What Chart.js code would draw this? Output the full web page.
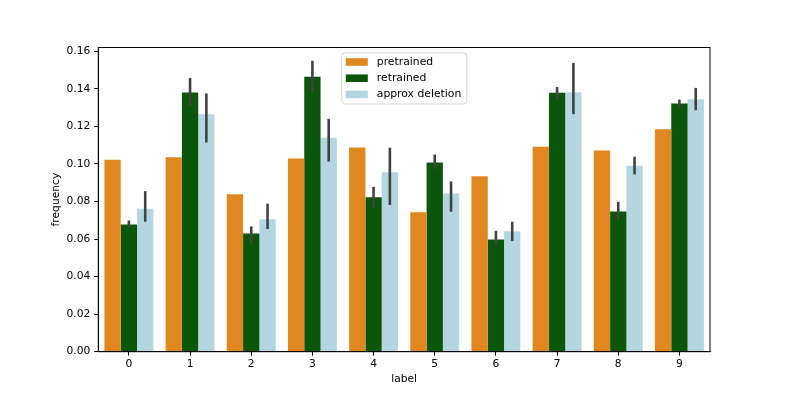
<!DOCTYPE html>
<html>
<head>
<meta charset="utf-8">
<script src="https://cdn.jsdelivr.net/npm/chart.js@4.4.1/dist/chart.umd.min.js"></script>
<style>
  html, body { margin: 0; padding: 0; background: #fff; }
  #wrap { width: 789px; height: 395px; }
</style>
</head>
<body>
<div id="wrap"><canvas id="chart" width="789" height="395"></canvas></div>
<script>
const labels = ["0", "1", "2", "3", "4", "5", "6", "7", "8", "9"];
const seriesNames = ["pretrained", "retrained", "approx deletion"];

const pretrained = [0.1022, 0.1035, 0.0838, 0.1029, 0.1088, 0.0742, 0.0935, 0.1091, 0.1072, 0.1184];
const retrained = [0.0678, 0.1380, 0.0630, 0.1464, 0.0822, 0.1008, 0.0598, 0.1379, 0.0747, 0.1322];
const approxDeletion = [0.0761, 0.1265, 0.0706, 0.1139, 0.0956, 0.0843, 0.0641, 0.1382, 0.0990, 0.1345];

// error bar ends (low, high)
const retrainedLow = [0.0660, 0.1309, 0.0575, 0.1378, 0.0768, 0.0972, 0.0566, 0.1347, 0.0699, 0.1302];
const retrainedHigh = [0.0699, 0.1458, 0.0667, 0.1549, 0.0878, 0.1050, 0.0644, 0.1410, 0.0798, 0.1343];
const approxLow = [0.0692, 0.1114, 0.0653, 0.1013, 0.0781, 0.0745, 0.0589, 0.1265, 0.0944, 0.1286];
const approxHigh = [0.0855, 0.1375, 0.0788, 0.1240, 0.1086, 0.0907, 0.0692, 0.1538, 0.1038, 0.1405];

const yTicks = [0, 0.02, 0.04, 0.06, 0.08, 0.10, 0.12, 0.14, 0.16];
const yMax = 0.162;

const COLORS = ["#e1871f", "#0c560c", "#b4d6e1"];
const FONT = "DejaVu Sans";

const errorBars = {
  id: "errorBars",
  afterDatasetsDraw(chart) {
    const ctx = chart.ctx;
    const y = chart.scales.y;
    const errs = { 1: [retrainedLow, retrainedHigh], 2: [approxLow, approxHigh] };
    ctx.save();
    ctx.strokeStyle = "#424242";
    ctx.lineWidth = 2.6;
    Object.keys(errs).forEach(i => {
      const meta = chart.getDatasetMeta(+i);
      const [lo, hi] = errs[i];
      meta.data.forEach((bar, j) => {
        ctx.beginPath();
        ctx.moveTo(bar.x, y.getPixelForValue(lo[j]));
        ctx.lineTo(bar.x, y.getPixelForValue(hi[j]));
        ctx.stroke();
      });
    });
    ctx.restore();
  }
};

const frameAndLegend = {
  id: "frameAndLegend",
  afterDraw(chart) {
    const ctx = chart.ctx;
    const a = chart.chartArea;
    ctx.save();
    // spines
    ctx.strokeStyle = "#000";
    ctx.lineWidth = 1;
    ctx.strokeRect(a.left, a.top, a.right - a.left, a.bottom - a.top);

    // legend box
    const bx = a.left + 243.5, by = a.top + 5.5, bw = 125, bh = 51, r = 3;
    ctx.beginPath();
    ctx.roundRect(bx, by, bw, bh, r);
    ctx.fillStyle = "rgba(255,255,255,0.85)";
    ctx.fill();
    ctx.strokeStyle = "#d4d4d4";
    ctx.stroke();

    ctx.font = "10.8px '" + FONT + "'";
    ctx.textBaseline = "middle";
    ctx.textAlign = "left";
    chart.data.datasets.forEach((ds, i) => {
      const rowY = by + 9 + i * 16.2;
      ctx.fillStyle = ds.backgroundColor;
      ctx.fillRect(bx + 4, rowY - 3.8, 22, 7.6);
      ctx.fillStyle = "#000";
      ctx.fillText(ds.label, bx + 35, rowY);
    });
    ctx.restore();
  }
};

new Chart(document.getElementById("chart").getContext("2d"), {
  type: "bar",
  data: {
    labels,
    datasets: [
      { label: seriesNames[0], data: pretrained, backgroundColor: COLORS[0] },
      { label: seriesNames[1], data: retrained, backgroundColor: COLORS[1] },
      { label: seriesNames[2], data: approxDeletion, backgroundColor: COLORS[2] }
    ]
  },
  options: {
    responsive: false,
    animation: false,
    devicePixelRatio: 1,
    layout: { padding: { left: 0, right: 79, top: 47.5, bottom: 0 } },
    datasets: { bar: { categoryPercentage: 0.8, barPercentage: 1.0, borderWidth: 0 } },
    plugins: {
      legend: { display: false },
      tooltip: { enabled: false }
    },
    scales: {
      x: {
        offset: true,
        grid: { display: true, drawOnChartArea: false, offset: false, color: "#000", tickLength: 4, tickWidth: 1 },
        border: { display: true, color: "#000", width: 1 },
        ticks: { color: "#000", font: { family: FONT, size: 10.7 }, padding: 2, maxRotation: 0 },
        title: { display: true, text: "label", color: "#000", font: { family: FONT, size: 10.7 }, padding: { top: 0, bottom: 9.6 } },
        afterFit(scale) { scale.height = 43.3; }
      },
      y: {
        min: 0,
        max: yMax,
        afterBuildTicks(scale) { scale.ticks = yTicks.map(v => ({ value: v })); },
        grid: { display: true, drawOnChartArea: false, color: "#000", tickLength: 4, tickWidth: 1 },
        border: { display: true, color: "#000", width: 1 },
        ticks: { color: "#000", font: { family: FONT, size: 10.7 }, padding: 4, callback: v => Number(v).toFixed(2) },
        title: { display: true, text: "frequency", color: "#000", font: { family: FONT, size: 10.7 }, padding: { top: 50.3, bottom: 0 } },
        afterFit(scale) { scale.width = 98.3; }
      }
    }
  },
  plugins: [errorBars, frameAndLegend]
});
</script>
</body>
</html>
